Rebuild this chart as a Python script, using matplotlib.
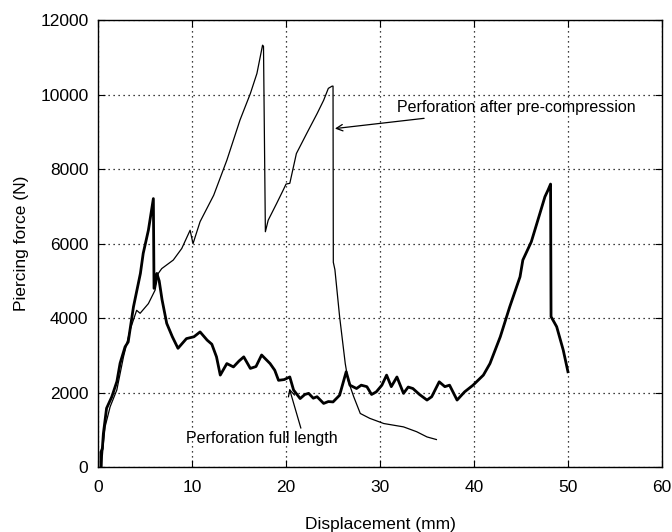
import numpy as np
import matplotlib.pyplot as plt

plt.rcParams['font.family'] = ['Liberation Sans', 'DejaVu Sans']

# perforation full length (thick curve)
full_x = [0.3, 0.3, 0.45, 0.56, 0.9, 1.46, 2.0, 2.34, 2.87, 3.2, 3.76, 4.5, 4.8, 5.35, 5.88,
          5.95, 6.25, 6.5, 6.8, 7.3, 7.9, 8.5, 9.4, 10.2, 10.85, 11.6, 12.1, 12.6, 13.0,
          13.7, 14.4, 15.0, 15.5, 16.2, 16.8, 17.4, 18.3, 18.8, 19.2, 19.8, 20.4, 20.8,
          21.5, 22.0, 22.4, 22.9, 23.3, 24.0, 24.5, 25.0, 25.7, 26.4, 26.8, 27.5, 28.0,
          28.6, 29.1, 29.6, 30.2, 30.7, 31.2, 31.8, 32.5, 33.0, 33.5, 34.2, 35.0, 35.5,
          36.3, 36.9, 37.4, 38.2, 39.0, 39.9, 41.0, 41.7, 42.8, 43.8, 44.9, 45.2, 46.1,
          47.0, 47.55, 47.9, 48.15, 48.2, 48.8, 49.5, 50.0]
full_y = [0, 400, 500, 900, 1580, 1890, 2300, 2790, 3230, 3360, 4300, 5200, 5740, 6360, 7210,
          4800, 5200, 5000, 4500, 3860, 3500, 3190, 3450, 3500, 3630, 3410, 3300, 2960, 2470,
          2780, 2690, 2850, 2960, 2650, 2700, 3010, 2780, 2600, 2330, 2350, 2420, 2070,
          1840, 1950, 1980, 1850, 1890, 1710, 1760, 1750, 1930, 2560, 2200, 2110, 2200,
          2160, 1950, 2020, 2200, 2470, 2160, 2420, 1980, 2150, 2110, 1950, 1800, 1890,
          2290, 2160, 2200, 1800, 2020, 2200, 2470, 2780, 3500, 4300, 5110, 5560, 6050,
          6800, 7260, 7450, 7600, 4040, 3770, 3140, 2560]

# perforation after pre-compression (thin curve)
pre_x = [0.39, 0.45, 0.56, 0.74, 1.28, 1.99, 2.7, 3.4, 4.1, 4.47, 5.35, 6.06, 6.4, 6.77, 8.0,
         8.9, 9.79, 10.1, 10.85, 12.3, 13.7, 15.1, 16.2, 16.9, 17.5, 17.6, 17.8, 18.1, 19.0,
         19.7, 20.0, 20.4, 21.1, 22.2, 23.3, 24.0, 24.5, 24.9, 25.0, 25.03, 25.2, 25.7,
         26.3, 26.6, 27.2, 27.9, 28.9, 30.4, 32.5, 33.9, 35.0, 36.0]
pre_y = [0, 300, 640, 1080, 1620, 2070, 2960, 3680, 4210, 4130, 4390, 4750, 5200, 5330, 5560,
         5870, 6360, 6000, 6590, 7300, 8240, 9320, 10030, 10570, 11330, 11300, 6320, 6630, 7080,
         7440, 7600, 7620, 8420, 8960, 9490, 9850, 10170, 10230, 10230, 5500, 5300, 4040,
         2780, 2330, 1890, 1440, 1310, 1170, 1080, 950, 810, 740]

fig = plt.figure(figsize=(6.72, 5.32), dpi=100)
ax = fig.add_axes([0.146, 0.122, 0.839, 0.840])

ax.plot(full_x, full_y, color='black', lw=2.0)
ax.plot(pre_x, pre_y, color='black', lw=0.9)

ax.set_xlim(0, 60)
ax.set_ylim(0, 12000)
ax.set_xticks(np.arange(0, 61, 10))
ax.set_yticks(np.arange(0, 12001, 2000))
ax.grid(True, linestyle=(0, (1, 3)), color='black', lw=0.9)
ax.tick_params(direction='in', top=True, right=True, labelsize=12.5, length=5)
ax.tick_params(axis='x', pad=9)
ax.tick_params(axis='y', pad=7)
for s in ax.spines.values():
    s.set_linewidth(1.0)

ax.set_xlabel('Displacement (mm)', fontsize=12.5, labelpad=16)
ax.set_ylabel('Piercing force (N)', fontsize=12.5, labelpad=8)

ax.annotate('Perforation after pre-compression', xy=(25.2, 9090), xytext=(31.8, 9650),
            fontsize=11.5, va='center', ha='left',
            arrowprops=dict(arrowstyle='->', color='black', lw=0.9, shrinkA=2, shrinkB=0))
ax.annotate('Perforation full length', xy=(20.35, 2110), xytext=(9.4, 770),
            fontsize=11.5, va='center', ha='left',
            arrowprops=dict(arrowstyle='->', color='black', lw=0.9, shrinkA=0, shrinkB=0,
                            relpos=(0.76, 1.0)))

fig.savefig('out.png', dpi=100)
